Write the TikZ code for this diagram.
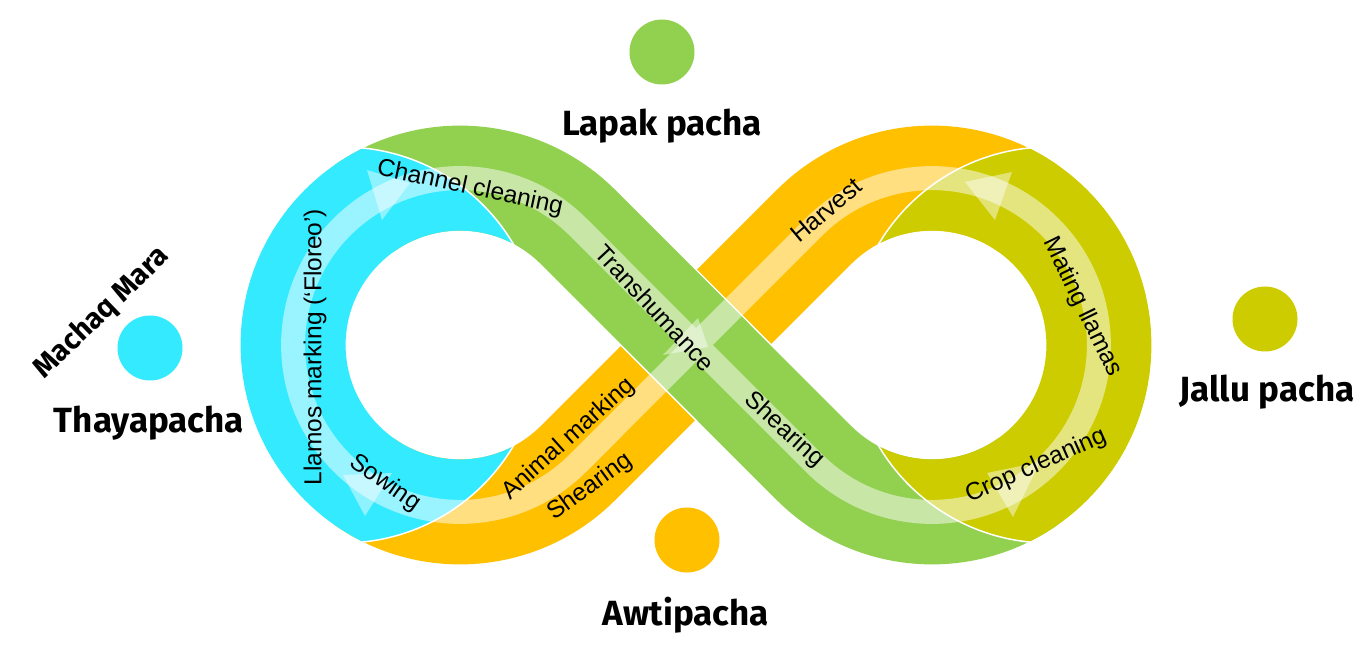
\documentclass[tikz,border=0pt]{standalone}
\usepackage{fontspec}
\setmainfont{Liberation Sans}
\newfontfamily\pachafont{Fira Sans}
\definecolor{thaya}{HTML}{33EAFF}
\definecolor{lapak}{HTML}{92D050}
\definecolor{awti}{HTML}{FFC000}
\definecolor{jallu}{HTML}{CCCC00}
\begin{document}
\begin{tikzpicture}[x=1pt,y=-1pt,
        band/.style={line width=1.5pt,draw=white,double=#1,double distance=105pt},
        cut/.style={draw=white,line width=1.5pt},
        lane/.style={draw=white,draw opacity=0.5,line width=24pt},
        head/.style={fill=white,fill opacity=0.45},
        task/.style={font=\fontsize{24.5}{28}\selectfont,inner sep=0pt},
        season/.style={font=\pachafont\bfseries\fontsize{35}{40}\selectfont,inner sep=0pt,anchor=base},
        seasondot/.style={circle,fill=#1,minimum size=65pt,inner sep=0pt}]
    \useasboundingbox (0,0) rectangle (1366,652);
    \coordinate (L) at (460,345);
    \coordinate (R) at (932,345);
    \def\rr{166.9}
    \draw[band=awti] (L) ++(125:\rr) arc (125:45:\rr) -- ([shift={(-135:\rr)}]R) arc (-135:-55:\rr);
    \draw[band=lapak] (L) ++(-125:\rr) arc (-125:-45:\rr) -- ([shift={(135:\rr)}]R) arc (135:55:\rr);
    \begin{scope}
        \clip (343,345) circle (198);
        \fill[thaya,even odd rule] (L) circle (219.4) (L) circle (114.4);
    \end{scope}
    \begin{scope}
        \clip (1049,345) circle (198);
        \fill[jallu,even odd rule] (R) circle (219.4) (R) circle (114.4);
    \end{scope}
    \draw[cut] (343,345) ++(-87:198) arc (-87:-28:198);
    \draw[cut] (343,345) ++(28:198) arc (28:87:198);
    \draw[cut] (1049,345) ++(208:198) arc (208:267:198);
    \draw[cut] (1049,345) ++(93:198) arc (93:152:198);
    \draw[lane] (L) ++(-45:\rr) arc (-45:-315:\rr) -- ([shift={(-135:\rr)}]R) arc (-135:135:\rr) -- cycle;
    \foreach \ax/\ay/\bx/\by/\cx/\cy in {367/170/410/183/382/220, 343/475/392/473/365/516,
            698/318/663/355/708/347, 965/182/1012/172/995/220, 987/473/1040/462/1013/517} {
        \fill[head] (\ax,\ay) -- (\bx,\by) -- (\cx,\cy) -- cycle;
    }
    \node[task,rotate=-12] (channel) at (470,188) {Channel cleaning};
    \node[task,rotate=-47] (transh) at (655,308) {Transhumance};
    \node[task,rotate=-42] (shearg) at (784,430) {Shearing};
    \node[task,rotate=40] (harvest) at (826,210) {Harvest};
    \node[task,rotate=-64] (mating) at (1082,307) {Mating llamas};
    \node[task,rotate=24] (crop) at (1036,466) {Crop cleaning};
    \node[task,rotate=90] (llamos) at (315,347) {Llamos marking (‘Floreo’)};
    \node[task,rotate=-35] (sowing) at (385,483) {Sowing};
    \node[task,rotate=42] (animal) at (569,439) {Animal marking};
    \node[task,rotate=36] (shearo) at (590,487) {Shearing};
    \node[seasondot=lapak] (lapakdot) at (662,52) {};
    \node[seasondot=jallu] (jalludot) at (1265,319) {};
    \node[seasondot=awti] (awtidot) at (687,540) {};
    \node[seasondot=thaya] (thayadot) at (150,348) {};
    \node[season] (lapaklbl) at (662,136) {Lapak pacha};
    \node[season] (jallulbl) at (1267,402) {Jallu pacha};
    \node[season] (awtilbl) at (686,625) {Awtipacha};
    \node[season] (thayalbl) at (149,432) {Thayapacha};
    \node[season,anchor=center,font=\pachafont\bfseries\fontsize{29}{34}\selectfont,rotate=44] (machaq) at (102,313) {Machaq Mara};
\end{tikzpicture}
\end{document}
